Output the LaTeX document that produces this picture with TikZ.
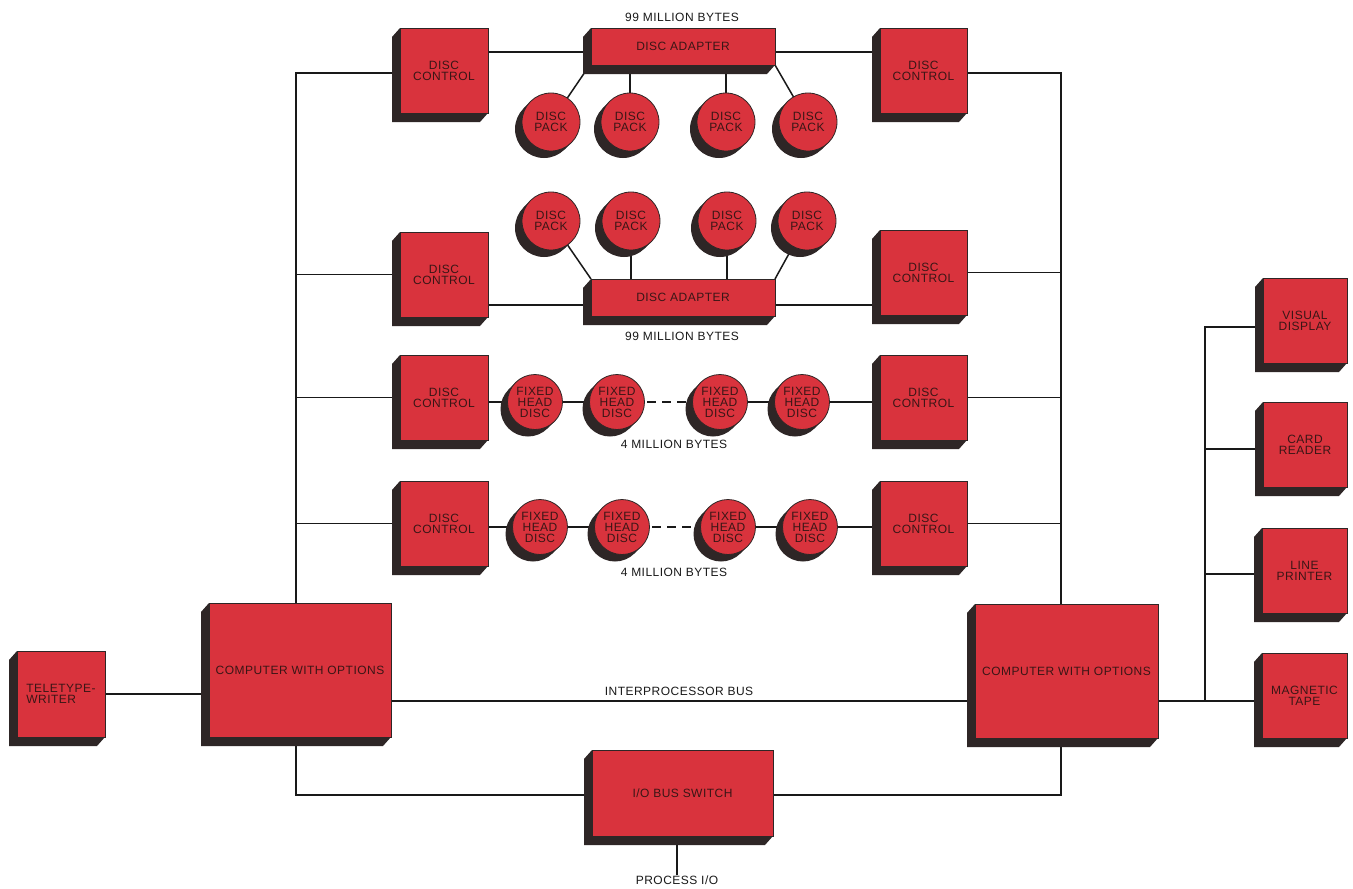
\documentclass[tikz,border=0pt]{standalone}
\usepackage{fontspec}
\setmainfont{Liberation Sans}
\newfontfamily\labfont[LetterSpace=4]{Liberation Sans}
\usetikzlibrary{calc}
\definecolor{cred}{HTML}{D9333D}
\definecolor{cshd}{HTML}{2E2626}
\definecolor{ctxt}{HTML}{3A1616}
\pgfdeclarelayer{bg}
\pgfdeclarelayer{lines}
\pgfdeclarelayer{shadows}
\pgfsetlayers{bg,lines,shadows,main}
\tikzset{
  face/.style={fill=cred,draw=cshd,line width=0.8pt,inner sep=0pt,outer sep=0pt,
    text=ctxt,align=center,font=\labfont\fontsize{12}{11}\selectfont},
  disk/.style={face,circle},
  shd/.style={fill=cshd},
  wire/.style={line width=1.5pt,draw=black!90},
  gap/.style={wire,dash pattern=on 9pt off 6pt},
  lbl/.style={text=black!90,font=\labfont\fontsize{12}{11}\selectfont,inner sep=0pt},
}
\newcommand\blk[6]{%
  \node[face,minimum width={(#4)-(#2)},minimum height={(#5)-(#3)}] (#1) at ({((#2)+(#4))/2},{((#3)+(#5))/2}) {#6};
  \begin{pgfonlayer}{shadows}
    \fill[shd] (#1.north west) -- ++(-8,9) -- ($(#1.south west)+(-8,9)$) -- ($(#1.south east)+(-8,9)$) -- (#1.south east) -- cycle;
  \end{pgfonlayer}}
% name, x, y, radius, text
\newcommand\dsk[5]{%
  \node[disk,minimum size={2*(#4)}] (#1) at (#2,#3) {#5};
  \begin{pgfonlayer}{shadows}
    \fill[shd] (#1.north west) -- ++(-7,7) -- ($(#1.south east)+(-7,7)$) -- (#1.south east) -- cycle;
    \fill[shd] ($(#1.center)+(-7,7)$) circle[radius=#4pt];
  \end{pgfonlayer}}
\begin{document}
\begin{tikzpicture}[x=1pt,y=-1pt]
\begin{pgfonlayer}{bg}
  \fill[white] (0,0) rectangle (1353,889);
\end{pgfonlayer}
\useasboundingbox (0,0) rectangle (1353,889);
% boxes
\blk{dc1l}{400}{28}{488}{113}{DISC\\CONTROL}
\blk{ad1}{591}{28}{775}{65}{DISC ADAPTER}
\blk{dc1r}{880}{28}{967}{113}{DISC\\CONTROL}
\blk{dc2l}{400}{232}{488}{317}{DISC\\CONTROL}
\blk{ad2}{591}{279}{775}{316}{DISC ADAPTER}
\blk{dc2r}{880}{230}{967}{315}{DISC\\CONTROL}
\blk{dc3l}{400}{355}{488}{440}{DISC\\CONTROL}
\blk{dc3r}{880}{355}{967}{440}{DISC\\CONTROL}
\blk{dc4l}{400}{481}{488}{566}{DISC\\CONTROL}
\blk{dc4r}{880}{481}{967}{566}{DISC\\CONTROL}
\blk{compL}{209}{603}{391}{737}{COMPUTER WITH OPTIONS}
\blk{compR}{975}{604}{1158}{738}{COMPUTER WITH OPTIONS}
\node[face,minimum width=88pt,minimum height=86pt,align=left] (tty) at (61,694) {TELETYPE-\\WRITER};
\begin{pgfonlayer}{shadows}
  \fill[shd] (tty.north west) -- ++(-8,9) -- ($(tty.south west)+(-8,9)$) -- ($(tty.south east)+(-8,9)$) -- (tty.south east) -- cycle;
\end{pgfonlayer}
\blk{io}{592}{750}{773}{836}{I/O BUS SWITCH}
\blk{vd}{1263}{278}{1347}{363}{VISUAL\\DISPLAY}
\blk{cr}{1263}{402}{1347}{487}{CARD\\READER}
\blk{lp}{1262}{528}{1347}{613}{LINE\\PRINTER}
\blk{mt}{1262}{653}{1347}{738}{MAGNETIC\\TAPE}
% discs
\dsk{p11}{551}{122}{29}{DISC\\PACK}
\dsk{p12}{630}{122}{29}{DISC\\PACK}
\dsk{p13}{726}{122}{29}{DISC\\PACK}
\dsk{p14}{808}{122}{29}{DISC\\PACK}
\dsk{p21}{551}{221}{29}{DISC\\PACK}
\dsk{p22}{631}{221}{29}{DISC\\PACK}
\dsk{p23}{727}{221}{29}{DISC\\PACK}
\dsk{p24}{807}{221}{29}{DISC\\PACK}
\dsk{f31}{535}{402}{27.5}{FIXED\\HEAD\\DISC}
\dsk{f32}{617}{402}{27.5}{FIXED\\HEAD\\DISC}
\dsk{f33}{720}{402}{27.5}{FIXED\\HEAD\\DISC}
\dsk{f34}{802}{402}{27.5}{FIXED\\HEAD\\DISC}
\dsk{f41}{540}{527}{27.5}{FIXED\\HEAD\\DISC}
\dsk{f42}{622}{527}{27.5}{FIXED\\HEAD\\DISC}
\dsk{f43}{728}{527}{27.5}{FIXED\\HEAD\\DISC}
\dsk{f44}{810}{527}{27.5}{FIXED\\HEAD\\DISC}
% labels
\node[lbl] (m1) at (682,17) {99 MILLION BYTES};
\node[lbl] (m2) at (682,336) {99 MILLION BYTES};
\node[lbl] (m3) at (674,444) {4 MILLION BYTES};
\node[lbl] (m4) at (674,572) {4 MILLION BYTES};
\node[lbl] (ipb) at (679,691) {INTERPROCESSOR BUS};
\node[lbl] (pio) at (677,880) {PROCESS I/O};
% junction coordinates
\coordinate (lTop) at (296,73);
\coordinate (lBot) at (296,795);
\coordinate (rTop) at (1061,73);
\coordinate (rBot) at (1061,795);
\coordinate (y1) at (0,52);
\coordinate (y2) at (0,305);
\coordinate (bus) at (680,701);
\coordinate (brT) at (1205,327);
\coordinate (brC) at (1205,449);
\coordinate (brL) at (1205,574);
\coordinate (brB) at (1205,701);
\begin{pgfonlayer}{lines}
  % main buses
  \draw[wire] (dc1l.center |- lTop) -- (lTop) -- (lBot) -- (io.center |- lBot);
  \draw[wire] (dc1r.center |- rTop) -- (rTop) -- (rBot) -- (io.center |- rBot);
  \draw[wire] (dc2l.center) -- (dc2l.center -| lTop);
  \draw[wire] (dc3l.center) -- (dc3l.center -| lTop);
  \draw[wire] (dc4l.center) -- (dc4l.center -| lTop);
  \draw[wire] (dc2r.center) -- (dc2r.center -| rTop);
  \draw[wire] (dc3r.center) -- (dc3r.center -| rTop);
  \draw[wire] (dc4r.center) -- (dc4r.center -| rTop);
  % row 1
  \draw[wire] (dc1l.center |- y1) -- (dc1r.center |- y1);
  \draw[wire] (p11.center) -- ([shift={(-6,7)}]ad1.south west);
  \draw[wire] (p12.center) -- (p12.center |- ad1.center);
  \draw[wire] (p13.center) -- (p13.center |- ad1.center);
  \draw[wire] (p14.center) -- (ad1.south east);
  % row 2
  \draw[wire] (dc2l.center |- y2) -- (dc2r.center |- y2);
  \draw[wire] (p21.center) -- (ad2.north west);
  \draw[wire] (p22.center) -- (p22.center |- ad2.center);
  \draw[wire] (p23.center) -- (p23.center |- ad2.center);
  \draw[wire] (p24.center) -- (ad2.north east);
  % row 3
  \draw[wire] (dc3l.center |- f31.center) -- (f31.center) -- (f32.center);
  \draw[gap] (f32.center) -- (f33.center);
  \draw[wire] (f33.center) -- (f34.center) -- (f34.center -| dc3r.center);
  % row 4
  \draw[wire] (dc4l.center |- f41.center) -- (f41.center) -- (f42.center);
  \draw[gap] (f42.center) -- (f43.center);
  \draw[wire] (f43.center) -- (f44.center) -- (f44.center -| dc4r.center);
  % bottom
  \draw[wire] (tty.center) -- (tty.center -| compL.center);
  \draw[wire] (compL.center |- bus) -- (compR.center |- bus);
  \draw[wire] (compR.center |- brB) -- (brB) -- (brT) -- (vd.center |- brT);
  \draw[wire] (brC) -- (cr.center |- brC);
  \draw[wire] (brL) -- (lp.center |- brL);
  \draw[wire] (brB) -- (mt.center |- brB);
  \draw[wire] (pio.north) -- (pio.north |- io.center);
\end{pgfonlayer}
\end{tikzpicture}
\end{document}
